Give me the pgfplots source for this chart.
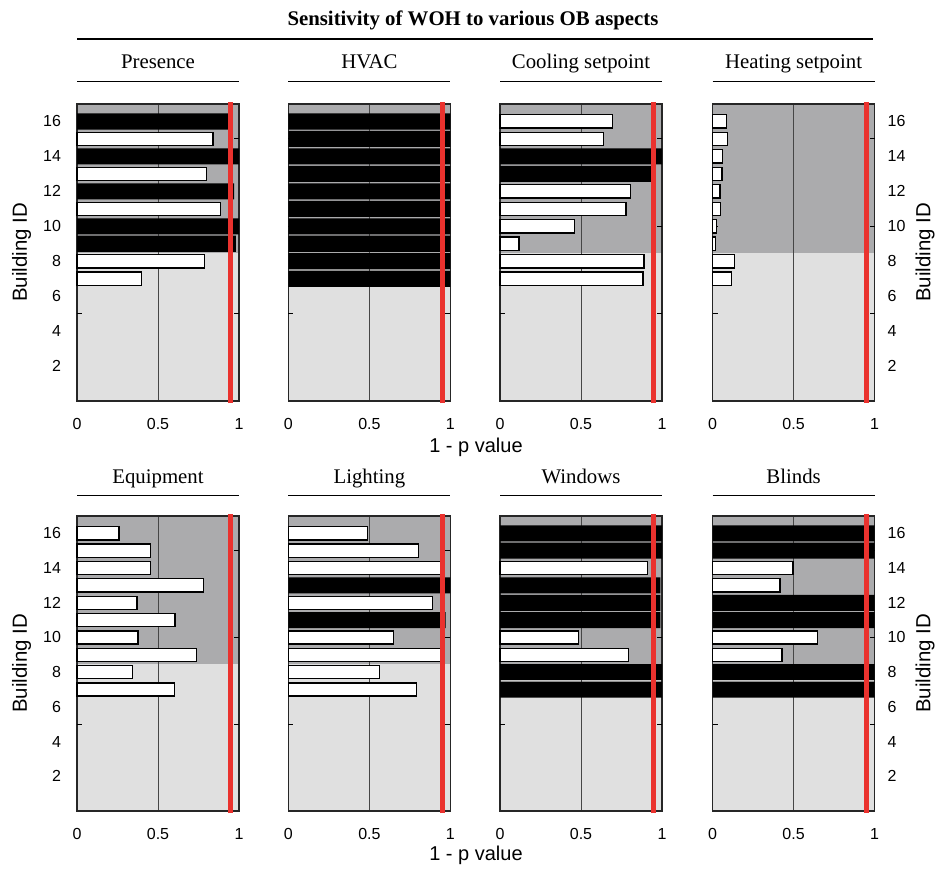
\documentclass[border=0pt]{standalone}
\usepackage{fontspec}
\setmainfont{Liberation Serif}
\setsansfont{Liberation Sans}
\usepackage{pgfplots}
\pgfplotsset{compat=1.18}
\definecolor{darkbg}{RGB}{171,171,173}
\definecolor{lightbg}{RGB}{224,224,224}
\definecolor{redl}{RGB}{234,50,46}
\definecolor{gridc}{RGB}{70,70,70}
\pgfplotsset{
  panel/.style={
    scale only axis, width=81pt,
    anchor=north west,
    xmin=0, xmax=1, ymin=0, ymax=17,
    axis background/.style={fill=darkbg, path picture={
      \fill[lightbg] (path picture bounding box.south west) rectangle (path picture bounding box.east);}},
    clip=false,
    xtick={0,0.5,1}, ytick={2,4,...,16},
    xmajorgrids, grid style={gridc, line width=0.5pt},
    major tick length=0pt,
    extra y ticks={5,10,15}, extra y tick labels={},
    extra y tick style={major tick length=2.5pt, tick style={line width=0.5pt,black}},
    axis line style={line width=0.7pt, black!85},
    tick label style={font=\sffamily\fontsize{8}{9}\selectfont},
    xticklabel style={yshift=-5pt},
    yticklabel style={xshift=-4.5pt},
    /pgf/number format/assume math mode=true,
  },
  toprow/.style={height=148.5pt},
  botrow/.style={height=147.5pt},
  nolab/.style={yticklabels={}},
  rightlab/.style={yticklabel pos=right, yticklabel style={xshift=7.5pt}},
  wbar/.style={xbar, bar width=0.76, bar shift=0pt, fill=white, draw=black, line width=0.65pt},
  bbar/.style={xbar, bar width=0.92, bar shift=0pt, fill=black, draw=none},
}
\newcommand{\redline}{%
  \addplot[redl, line width=2.5pt] coordinates {(0.95,-0.12) (0.95,17.12)};
}
\begin{document}
\begin{tikzpicture}
\path[use as bounding box] (0pt,0pt) rectangle (467.5pt,-434.5pt);
% overall title
\node[anchor=base, font=\bfseries\fontsize{10.4}{12}\selectfont] at (236.5pt,-12.5pt) {Sensitivity of WOH to various OB aspects};
\draw[line width=0.6pt] (38.5pt,-19.5pt) -- (436.5pt,-19.5pt);
% panel titles
\foreach \cx/\t in {79/Presence, 184.7/HVAC, 290.5/Cooling setpoint, 396.8/Heating setpoint}{
  \node[anchor=base, font=\fontsize{10.4}{12}\selectfont] at (\cx pt,-34.2pt) {\t};
  \draw[line width=0.6pt] (\cx pt-40.5pt,-40.8pt) -- (\cx pt+40.5pt,-40.8pt);
}
\foreach \cx/\t in {79/Equipment, 184.7/Lighting, 290.5/Windows, 396.8/Blinds}{
  \node[anchor=base, font=\fontsize{10.4}{12}\selectfont] at (\cx pt,-241.7pt) {\t};
  \draw[line width=0.6pt] (\cx pt-40.5pt,-247.8pt) -- (\cx pt+40.5pt,-247.8pt);
}
% axis labels
\foreach \yy in {-126.25,-331.75}{
  \node[rotate=90, font=\sffamily\fontsize{10.2}{12}\selectfont] at (10.8pt,\yy pt) {Building ID};
  \node[rotate=90, font=\sffamily\fontsize{10.2}{12}\selectfont] at (462.5pt,\yy pt) {Building ID};
}
\node[font=\sffamily\fontsize{10}{12}\selectfont] at (238pt,-223.5pt) {1 - p value};
\node[font=\sffamily\fontsize{10}{12}\selectfont] at (238pt,-427.5pt) {1 - p value};

% ---------- Presence
\begin{axis}[panel, toprow, at={(38.5pt,-52pt)}]
\addplot[wbar] coordinates {(0.84,15) (0.80,13) (0.885,11) (0.786,8) (0.40,7)};
\addplot[bbar] coordinates {(0.96,16) (1.0,14) (0.97,12) (1.0,10) (0.98,9)};
\redline
\end{axis}
% ---------- HVAC
\begin{axis}[panel, toprow, nolab, at={(144.2pt,-52pt)}]
\addplot[bbar] coordinates {(1,16) (1,15) (1,14) (1,13) (1,12) (1,11) (1,10) (1,9) (1,8) (1,7)};
\redline
\end{axis}
% ---------- Cooling setpoint
\begin{axis}[panel, toprow, nolab, at={(250pt,-52pt)}]
\addplot[wbar] coordinates {(0.696,16) (0.637,15) (0.807,12) (0.778,11) (0.458,10) (0.117,9) (0.889,8) (0.883,7)};
\addplot[bbar] coordinates {(1.0,14) (0.955,13)};
\redline
\end{axis}
% ---------- Heating setpoint
\begin{axis}[panel, toprow, rightlab, at={(356.3pt,-52pt)}]
\addplot[wbar] coordinates {(0.085,16) (0.093,15) (0.062,14) (0.058,13) (0.045,12) (0.05,11) (0.023,10) (0.016,9) (0.135,8) (0.118,7)};
\redline
\end{axis}
% ---------- Equipment
\begin{axis}[panel, botrow, at={(38.5pt,-258pt)}]
\addplot[wbar] coordinates {(0.26,16) (0.453,15) (0.453,14) (0.781,13) (0.371,12) (0.604,11) (0.377,10) (0.736,9) (0.342,8) (0.60,7)};
\redline
\end{axis}
% ---------- Lighting
\begin{axis}[panel, botrow, nolab, at={(144.2pt,-258pt)}]
\addplot[wbar] coordinates {(0.487,16) (0.804,15) (0.94,14) (0.89,12) (0.647,10) (0.94,9) (0.563,8) (0.792,7)};
\addplot[bbar] coordinates {(1.0,13) (0.971,11)};
\redline
\end{axis}
% ---------- Windows
\begin{axis}[panel, botrow, nolab, at={(250pt,-258pt)}]
\addplot[wbar] coordinates {(0.91,14) (0.483,10) (0.795,9)};
\addplot[bbar] coordinates {(1.0,16) (1.0,15) (0.99,13) (0.99,12) (0.99,11) (1.0,8) (1.0,7)};
\redline
\end{axis}
% ---------- Blinds
\begin{axis}[panel, botrow, rightlab, at={(356.3pt,-258pt)}]
\addplot[wbar] coordinates {(0.497,14) (0.416,13) (0.646,10) (0.429,9)};
\addplot[bbar] coordinates {(1,16) (1,15) (1,12) (1,11) (1,8) (1,7)};
\redline
\end{axis}
\end{tikzpicture}
\end{document}
